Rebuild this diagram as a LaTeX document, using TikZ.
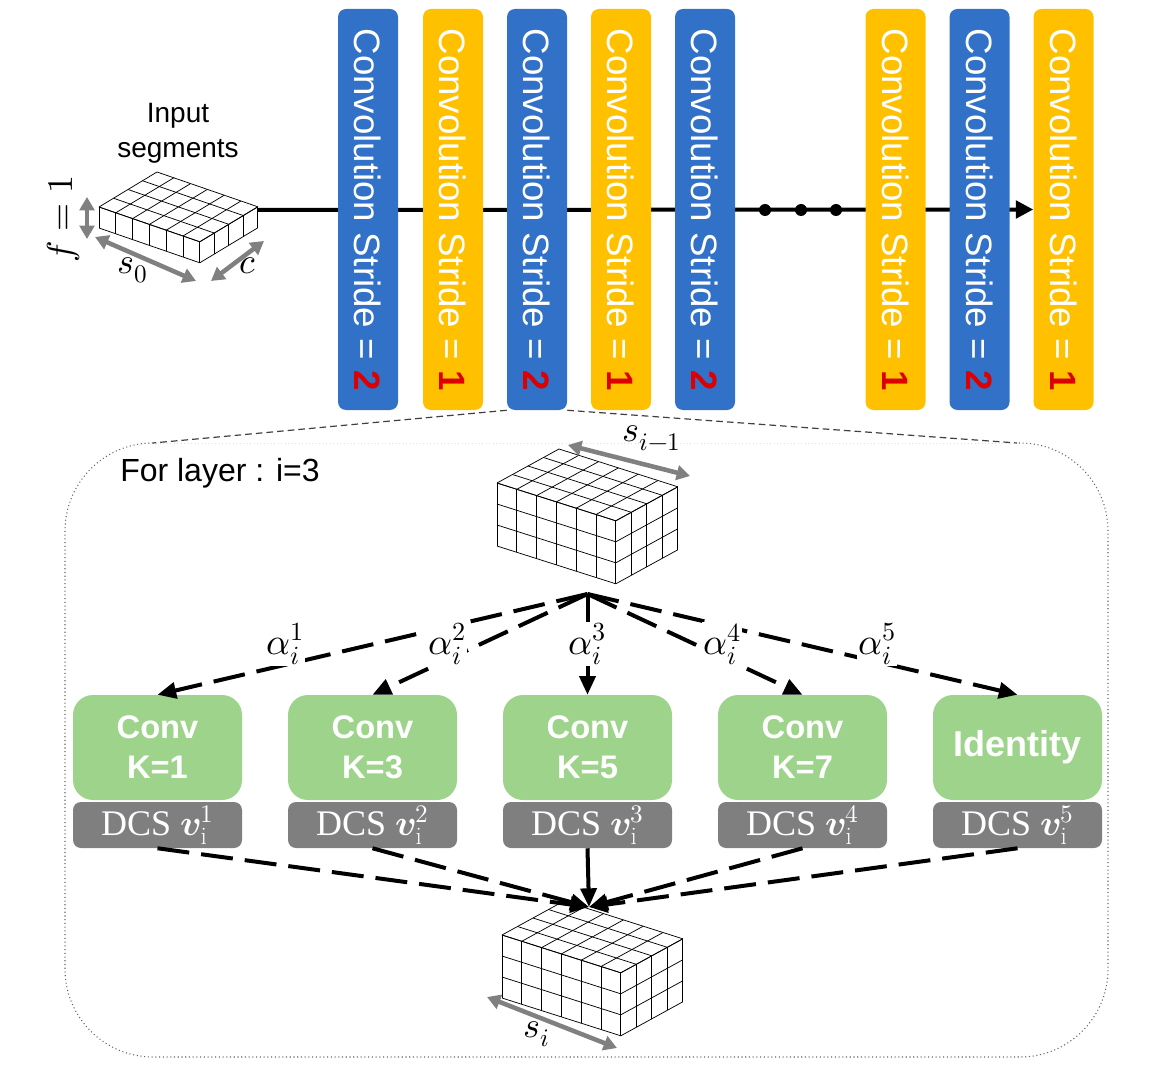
\documentclass[tikz,border=0pt]{standalone}
\usepackage{fontspec}
\usepackage{unicode-math}
\setmathfont{Latin Modern Math}
\newfontfamily\arialf{Liberation Sans}
\newfontfamily\serff{Liberation Serif}
\usetikzlibrary{arrows.meta,backgrounds}
\definecolor{barblue}{RGB}{50,113,200}
\definecolor{baryellow}{RGB}{255,192,0}
\definecolor{numred}{RGB}{220,0,0}
\definecolor{convgreen}{RGB}{157,211,138}
\definecolor{dcsgray}{RGB}{127,127,127}
\definecolor{dimgray}{RGB}{128,128,128}
\newcommand{\rnum}[1]{\textcolor{numred}{\textbf{#1}}}
\newcommand{\gridcube}[4]{%
 \begin{scope}[shift={#1}]
  \fill[white] (0,0) -- ({#3*\cvx},{#3*\cvy}) -- ({#2*\cux+#3*\cvx},{#2*\cuy+#3*\cvy}) -- ({#2*\cux+#3*\cvx},{#2*\cuy+#3*\cvy+#4*\chh}) -- ({#2*\cux},{#2*\cuy+#4*\chh}) -- (0,{#4*\chh}) -- cycle;
  \foreach \ii in {0,...,#2} {\draw[cubeline] ({\ii*\cux},{\ii*\cuy}) -- ++(0,{#4*\chh}); \draw[cubeline] ({\ii*\cux},{\ii*\cuy}) -- ++({#3*\cvx},{#3*\cvy});}
  \foreach \jj in {0,...,#3} {\draw[cubeline] ({#2*\cux+\jj*\cvx},{#2*\cuy+\jj*\cvy}) -- ++(0,{#4*\chh}); \draw[cubeline] ({\jj*\cvx},{\jj*\cvy}) -- ++({#2*\cux},{#2*\cuy});}
  \foreach \kk in {0,...,#4} {\draw[cubeline] (0,{\kk*\chh}) -- ++({#2*\cux},{#2*\cuy}); \draw[cubeline] ({#2*\cux},{#2*\cuy+\kk*\chh}) -- ++({#3*\cvx},{#3*\cvy});}
 \end{scope}}
\begin{document}
\begin{tikzpicture}[x=0.75pt,y=-0.75pt,
  bar/.style={rotate=-90, minimum width=300.75pt, minimum height=45pt, rounded corners=6pt, inner sep=0pt, text=white, font=\arialf\fontsize{27.5}{30}\selectfont},
  bluebar/.style={bar, fill=barblue},
  yellowbar/.style={bar, fill=baryellow},
  dotnode/.style={circle, fill=black, minimum size=9pt, inner sep=0pt},
  mainline/.style={line width=3pt, -{Triangle[length=13pt,width=13pt]}},
  convbox/.style={fill=convgreen, rounded corners=15pt, minimum width=126.75pt, minimum height=78.75pt, text=white, font=\arialf\bfseries\fontsize{24.5}{30}\selectfont, align=center, inner sep=0pt},
  dcsbox/.style={fill=dcsgray, rounded corners=6pt, minimum width=126.75pt, minimum height=34.5pt, text=white, font=\serff\fontsize{27}{30}\selectfont, inner sep=0pt},
  alab/.style={fill=white, inner sep=1pt, font=\fontsize{28}{30}\selectfont},
  conn/.style={line width=3pt, -{Triangle[length=14pt,width=12pt]}},
  dconn/.style={conn, dash pattern=on 24pt off 9pt},
  dimarrow/.style={draw=dimgray, line width=3.4pt, {Triangle[length=10pt,width=11pt]}-{Triangle[length=10pt,width=11pt]}},
  dimlab/.style={font=\fontsize{27}{30}\selectfont, inner sep=1pt},
  cubeline/.style={line width=0.55pt, black},
  framepath/.style={draw=black!60, line width=0.8pt, dotted},
  zoomline/.style={draw=black!75, line width=0.9pt, dash pattern=on 5pt off 3pt}
]
\useasboundingbox (0,0) rectangle (1156,1080);

% ---------- input segments ----------
\node[font=\arialf\fontsize{21}{26}\selectfont, align=center] (inlab) at (178,133) {Input\\segments};
\def\cux{16.8}\def\cuy{5.8}\def\cvx{14.5}\def\cvy{-8.75}\def\chh{21}
\gridcube{(99,207)}{6}{4}{1}
\coordinate (inp) at (258,210);
\coordinate (fa) at (87,197); \coordinate (fb) at (87,239);
\draw[dimarrow] (fa) -- (fb);
\node[dimlab, rotate=90] (flab) at (63,219) {$f = 1$};
\coordinate (sa) at (95,237); \coordinate (sb) at (196,281);
\draw[dimarrow] (sa) -- (sb);
\node[dimlab] (s0lab) at (133,270) {$s_0$};
\coordinate (ca) at (211,281); \coordinate (cb) at (264,241);
\draw[dimarrow] (ca) -- (cb);
\node[dimlab] (clab) at (248,266) {$c$};

% ---------- bars ----------
\node[bluebar] (b1) at (368,209.5) {Convolution Stride = \rnum{2}};
\node[yellowbar] (b2) at (453,209.5) {Convolution Stride = \rnum{1}};
\node[bluebar] (b3) at (537,209.5) {Convolution Stride = \rnum{2}};
\node[yellowbar] (b4) at (621,209.5) {Convolution Stride = \rnum{1}};
\node[bluebar] (b5) at (705,209.5) {Convolution Stride = \rnum{2}};
\node[yellowbar] (b6) at (895.5,209.5) {Convolution Stride = \rnum{1}};
\node[bluebar] (b7) at (979.5,209.5) {Convolution Stride = \rnum{2}};
\node[yellowbar] (b8) at (1063.5,209.5) {Convolution Stride = \rnum{1}};
\node[dotnode] (d1) at (765,210) {};
\node[dotnode] (d2) at (801,210) {};
\node[dotnode] (d3) at (836,210) {};
\begin{scope}[on background layer]
\draw[mainline] (inp) -- (b8.south);
\end{scope}

% ---------- zoom frame ----------
\coordinate (fl) at (153,443);
\coordinate (fr) at (1017,443);
\draw[framepath, rounded corners=66pt] (fl) -- (65,443) -- (65,1057) -- (1108,1057) -- (1108,443) -- (fr);
\draw[black!12, line width=0.6pt, dotted] (fl) -- (fr);
\draw[zoomline] (b3.south east) -- (fl);
\draw[zoomline] (b3.north east) -- (fr);
\node[font=\arialf\fontsize{24}{28}\selectfont, anchor=west, inner sep=0pt] (layerlab) at (120,473) {For layer : i=3};

% ---------- cubes ----------
\def\cux{19.8}\def\cuy{6.3}\def\cvx{15.5}\def\cvy{-8.5}\def\chh{21}
\gridcube{(497,483)}{6}{4}{3}
\coordinate (sia) at (568,445); \coordinate (sib) at (690,476);
\draw[dimarrow] (sia) -- (sib);
\node[dimlab] (silab) at (652,438) {$s_{i-1}$};
\gridcube{(502,935)}{6}{4}{3}
\coordinate (soa) at (487,997); \coordinate (sob) at (617,1048);
\draw[dimarrow] (soa) -- (sob);
\node[dimlab] (sobl) at (537,1034) {$s_i$};

\coordinate (src) at (587.5,594);
\coordinate (dst) at (589,907);

% ---------- operation boxes ----------
\node[convbox] (c1) at (157.5,747.5) {Conv\\K=1};
\node[convbox] (c2) at (372.5,747.5) {Conv\\K=3};
\node[convbox] (c3) at (587.5,747.5) {Conv\\K=5};
\node[convbox] (c4) at (802.5,747.5) {Conv\\K=7};
\node[convbox, font=\arialf\bfseries\fontsize{27}{30}\selectfont] (c5) at (1017.5,747.5) {Identity};
\node[dcsbox] (v1) at (157.5,825) {DCS $\symbfit{v}_{\mathrm{i}}^{1}$};
\node[dcsbox] (v2) at (372.5,825) {DCS $\symbfit{v}_{\mathrm{i}}^{2}$};
\node[dcsbox] (v3) at (587.5,825) {DCS $\symbfit{v}_{\mathrm{i}}^{3}$};
\node[dcsbox] (v4) at (802.5,825) {DCS $\symbfit{v}_{\mathrm{i}}^{4}$};
\node[dcsbox] (v5) at (1017.5,825) {DCS $\symbfit{v}_{\mathrm{i}}^{5}$};

% ---------- connectors ----------
\draw[dconn] (src) -- (c1.north);
\draw[dconn] (src) -- (c2.north);
\draw[conn] (src) -- (c3.north);
\draw[dconn] (src) -- (c4.north);
\draw[dconn] (src) -- (c5.north);
\node[alab] (a1) at (285,644) {$\alpha_i^1$};
\node[alab] (a2) at (447,644) {$\alpha_i^2$};
\node[alab] (a3) at (587.5,644) {$\alpha_i^3$};
\node[alab] (a4) at (722,644) {$\alpha_i^4$};
\node[alab] (a5) at (877,644) {$\alpha_i^5$};

\draw[dconn] (v1.south) -- (dst);
\draw[dconn] (v2.south) -- (dst);
\draw[conn] (v3.south) -- (dst);
\draw[dconn] (v4.south) -- (dst);
\draw[dconn] (v5.south) -- (dst);
\end{tikzpicture}
\end{document}
